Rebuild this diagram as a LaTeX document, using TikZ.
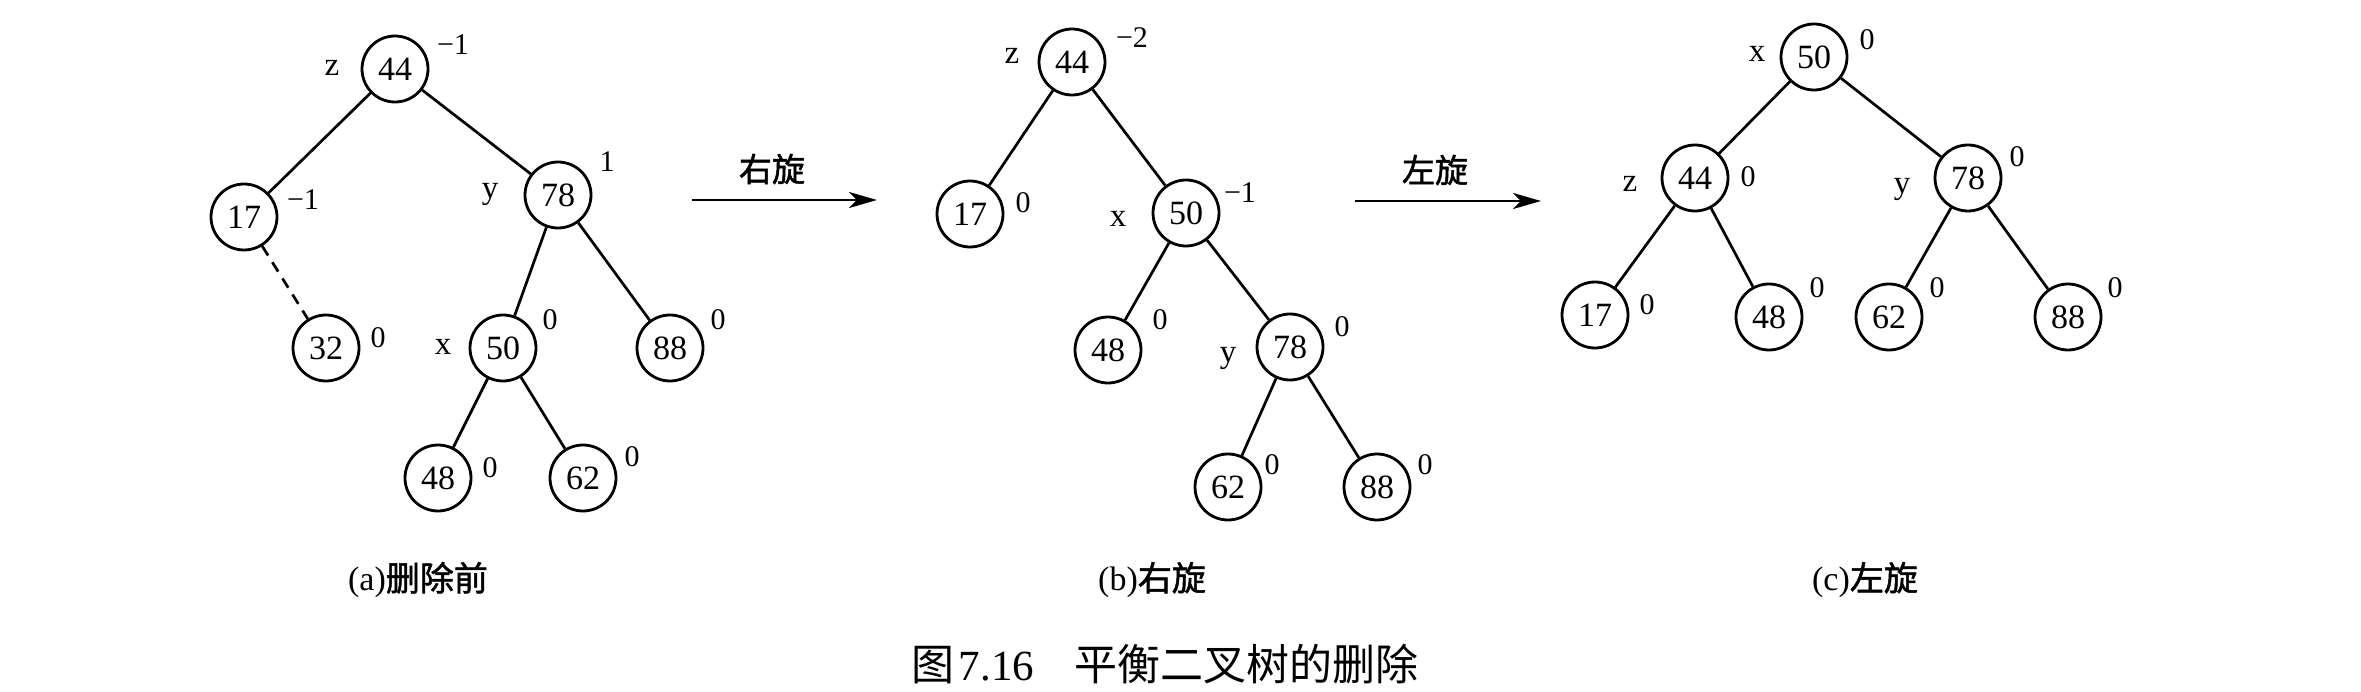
\documentclass[tikz,border=0pt]{standalone}
\usepackage{fontspec}
\setmainfont{Liberation Serif}
\newfontfamily\cjk{Noto Sans CJK SC}
\newfontfamily\cjkb[FakeBold=1.5]{Noto Sans CJK SC}
\usetikzlibrary{arrows.meta}
\tikzset{
  tn/.style={circle, draw, line width=2.8pt, minimum size=66pt, inner sep=0pt, font=\fontsize{34}{34}\selectfont},
  lab/.style={inner sep=0pt, font=\fontsize{33}{33}\selectfont},
  bal/.style={inner sep=0pt, font=\fontsize{30}{30}\selectfont},
  edge/.style={line width=2.7pt},
  dedge/.style={line width=2.7pt, dash pattern=on 11pt off 8pt},
  rot/.style={line width=2.8pt, -{Stealth[length=28pt, width=16pt, inset=8pt]}},
  rotlab/.style={inner sep=0pt, font=\cjkb\fontsize{33}{33}\selectfont},
  sub/.style={inner sep=0pt, font=\fontsize{34}{34}\selectfont},
  figcap/.style={inner sep=0pt, font=\fontsize{43}{43}\selectfont}
}
\begin{document}
\begin{tikzpicture}[x=1pt, y=-1pt]
\useasboundingbox (0,0) rectangle (2361,692);
% ---------- tree (a)
\node[tn] (a44) at (395,69) {44};
\node[tn] (a17) at (244,217) {17};
\node[tn] (a78) at (558,195) {78};
\node[tn] (a32) at (326,348) {32};
\node[tn] (a50) at (503,348) {50};
\node[tn] (a88) at (670,348) {88};
\node[tn] (a48) at (438,478) {48};
\node[tn] (a62) at (583,478) {62};
\draw[edge] (a44) -- (a17);
\draw[edge] (a44) -- (a78);
\draw[dedge] (a17) -- (a32);
\draw[edge] (a78) -- (a50);
\draw[edge] (a78) -- (a88);
\draw[edge] (a50) -- (a48);
\draw[edge] (a50) -- (a62);
\node[lab] (az) at (332,68) {z};
\node[bal] (ab44) at (453,45) {−1};
\node[bal] (ab17) at (303,200) {−1};
\node[lab] (ay) at (490,194) {y};
\node[bal] (ab78) at (607,162) {1};
\node[bal] (ab32) at (378,338) {0};
\node[lab] (ax) at (443,347) {x};
\node[bal] (ab50) at (550,320) {0};
\node[bal] (ab88) at (718,320) {0};
\node[bal] (ab48) at (490,468) {0};
\node[bal] (ab62) at (632,457) {0};
% ---------- arrow 1
\coordinate (r1s) at (692,200);
\coordinate (r1e) at (877,200);
\draw[rot] (r1s) -- (r1e);
\node[rotlab] (r1l) at (772,169) {右旋};
% ---------- tree (b)
\node[tn] (b44) at (1072,62) {44};
\node[tn] (b17) at (970,214) {17};
\node[tn] (b50) at (1186,213) {50};
\node[tn] (b48) at (1108,350) {48};
\node[tn] (b78) at (1290,347) {78};
\node[tn] (b62) at (1228,487) {62};
\node[tn] (b88) at (1377,487) {88};
\draw[edge] (b44) -- (b17);
\draw[edge] (b44) -- (b50);
\draw[edge] (b50) -- (b48);
\draw[edge] (b50) -- (b78);
\draw[edge] (b78) -- (b62);
\draw[edge] (b78) -- (b88);
\node[lab] (bz) at (1012,56) {z};
\node[bal] (bb44) at (1132,38) {−2};
\node[bal] (bb17) at (1023,203) {0};
\node[lab] (bx) at (1118,219) {x};
\node[bal] (bb50) at (1240,193) {−1};
\node[bal] (bb48) at (1160,320) {0};
\node[lab] (by) at (1228,358) {y};
\node[bal] (bb78) at (1342,327) {0};
\node[bal] (bb62) at (1272,465) {0};
\node[bal] (bb88) at (1425,465) {0};
% ---------- arrow 2
\coordinate (r2s) at (1355,201);
\coordinate (r2e) at (1541,201);
\draw[rot] (r2s) -- (r2e);
\node[rotlab] (r2l) at (1435,170) {左旋};
% ---------- tree (c)
\node[tn] (c50) at (1814,57) {50};
\node[tn] (c44) at (1695,178) {44};
\node[tn] (c78) at (1968,178) {78};
\node[tn] (c17) at (1595,315) {17};
\node[tn] (c48) at (1769,317) {48};
\node[tn] (c62) at (1889,317) {62};
\node[tn] (c88) at (2068,317) {88};
\draw[edge] (c50) -- (c44);
\draw[edge] (c50) -- (c78);
\draw[edge] (c44) -- (c17);
\draw[edge] (c44) -- (c48);
\draw[edge] (c78) -- (c62);
\draw[edge] (c78) -- (c88);
\node[lab] (cx) at (1757,54) {x};
\node[bal] (cb50) at (1867,40) {0};
\node[lab] (cz) at (1630,184) {z};
\node[bal] (cb44) at (1748,177) {0};
\node[lab] (cy) at (1902,189) {y};
\node[bal] (cb78) at (2017,157) {0};
\node[bal] (cb17) at (1647,305) {0};
\node[bal] (cb48) at (1817,288) {0};
\node[bal] (cb62) at (1937,288) {0};
\node[bal] (cb88) at (2115,288) {0};
% ---------- captions
\node[sub] (capa) at (418,580) {(a){\cjkb 删除前}};
\node[sub] (capb) at (1152,580) {(b){\cjkb 右旋}};
\node[sub] (capc) at (1865,580) {(c){\cjkb 左旋}};
\node[figcap] (capmain) at (1165,664) {{\cjk 图}\hspace{4pt}7.16\hspace{40pt}{\cjk 平衡二叉树的删除}};
\end{tikzpicture}
\end{document}
